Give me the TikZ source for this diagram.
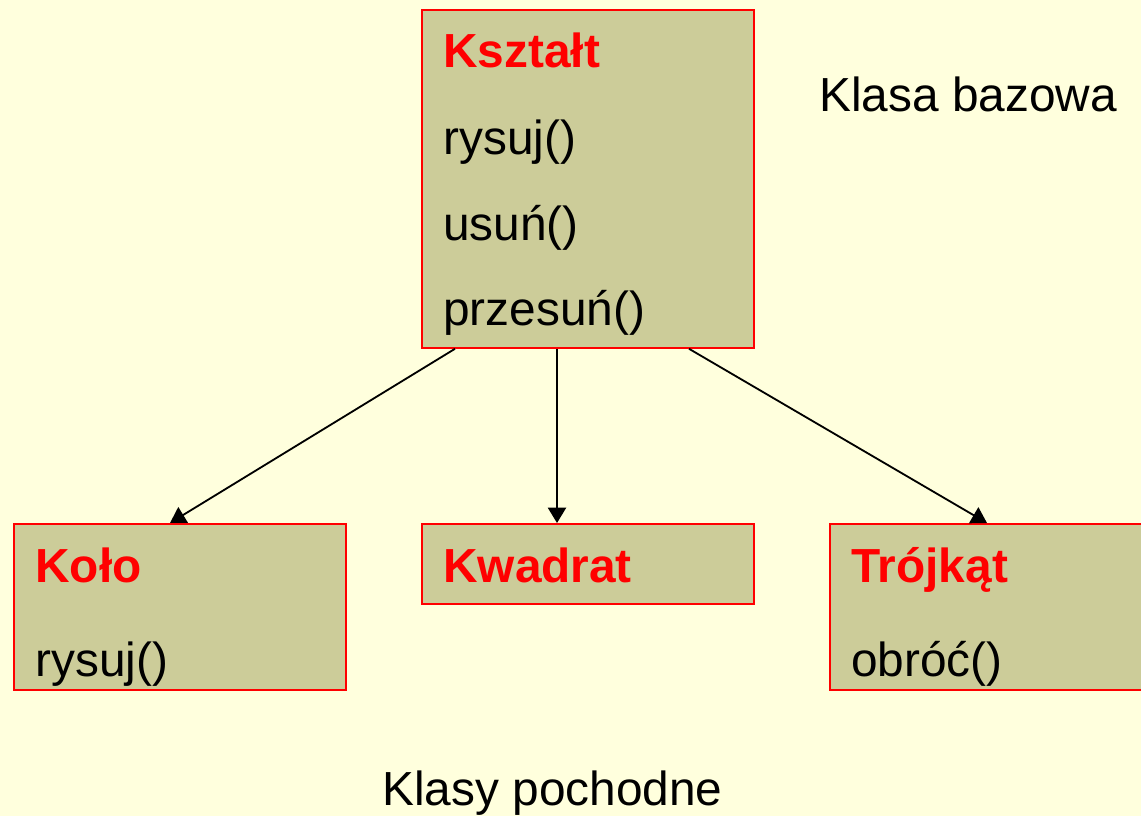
\documentclass[tikz,border=0pt]{standalone}
\usepackage{fontspec}
\setmainfont{Liberation Sans}
\usetikzlibrary{arrows.meta,calc}
\definecolor{tlo}{HTML}{FFFFDD}
\definecolor{oliwka}{HTML}{CCCC99}
\begin{document}
\begin{tikzpicture}[x=0.025cm,y=-0.025cm,
    klasa/.style={draw=red,fill=oliwka,line width=1.2pt,inner sep=0pt,anchor=north west,minimum width=8.3cm},
    nazwa/.style={anchor=base west,inner sep=0pt,text=red,font=\fontsize{34}{40}\selectfont\bfseries},
    metoda/.style={anchor=base west,inner sep=0pt,font=\fontsize{34}{40}\selectfont},
    dziedzicz/.style={-{Triangle[length=11pt,width=13pt]},line width=1.3pt}]
  \useasboundingbox (0,0) rectangle (1141,816);
  \fill[tlo] (0,0) rectangle (1141,816);
  % klasa bazowa
  \node[klasa,minimum height=8.45cm] (ksztalt) at (421,9) {};
  \node[nazwa] (ksztaltN) at (443,67) {Kształt};
  \node[metoda] (ksztaltR) at (443,154) {rysuj()};
  \node[metoda] (ksztaltU) at (443,240) {usuń()};
  \node[metoda] (ksztaltP) at (443,325) {przesuń()};
  \node[metoda] (bazowa) at (819,111) {Klasa bazowa};
  % klasy pochodne
  \node[klasa,minimum height=4.15cm] (kolo) at (13,523) {};
  \node[nazwa] (koloN) at (35,582) {Koło};
  \node[metoda] (koloR) at (35,676) {rysuj()};
  \node[klasa,minimum height=2cm] (kwadrat) at (421,523) {};
  \node[nazwa] (kwadratN) at (443,582) {Kwadrat};
  \node[klasa,minimum height=4.15cm] (trojkat) at (829,523) {};
  \node[nazwa] (trojkatN) at (851,582) {Trójkąt};
  \node[metoda] (trojkatO) at (851,676) {obróć()};
  \node[metoda] (pochodne) at (382,805) {Klasy pochodne};
  % dziedziczenie
  \draw[dziedzicz] ($(ksztalt.south west)+(34,0)$) -- ($(kolo.north west)+(157,0)$);
  \draw[dziedzicz] ($(ksztalt.south west)+(136,0)$) -- ($(kwadrat.north west)+(136,0)$);
  \draw[dziedzicz] ($(ksztalt.south west)+(268,0)$) -- ($(trojkat.north west)+(158,0)$);
\end{tikzpicture}
\end{document}
